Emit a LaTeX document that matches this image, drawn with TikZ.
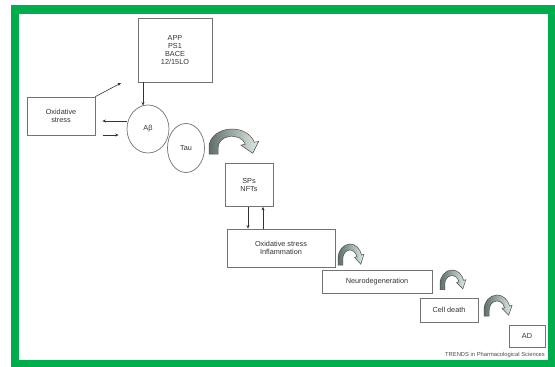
\documentclass[tikz,border=0pt]{standalone}
\usepackage{fontspec}
\setmainfont{Liberation Sans}
\usetikzlibrary{arrows.meta,shapes.geometric}
\definecolor{gframe}{RGB}{0,173,76}
\definecolor{cdark}{RGB}{95,112,104}
\definecolor{clight}{RGB}{222,236,228}
\newcommand\carrow[4]{%
  \begin{scope}[shift={(#1,#2)},xscale=#3,yscale=-#4]
    \path[draw=black!70,line width=0.5pt,left color=cdark,right color=clight]
      (-1,-0.4) -- (180:1) arc[start angle=180,end angle=15,radius=1]
      -- (15:1.2) -- (0.9,-0.35) -- (15:0.4) -- (15:0.6)
      arc[start angle=15,end angle=180,radius=0.6] -- (-0.6,-0.4) -- cycle;
  \end{scope}}
\begin{document}
\begin{tikzpicture}[x=1pt,y=-1pt,
  box/.style={draw=black!55,line width=0.7pt,fill=white,align=center,inner sep=0pt,
    text=black!80,font=\fontsize{7.3}{8.3}\selectfont},
  bub/.style={ellipse,draw=black!55,line width=0.7pt,fill=white,inner sep=0pt,
    text=black!80,font=\fontsize{7.3}{8.3}\selectfont},
  arr/.style={draw=black!80,line width=0.6pt,-{Stealth[length=3.5pt,width=3pt]}}]
\fill[white] (0,0) rectangle (555,367);
\fill[gframe] (11,5) rectangle (555,367);
\fill[white] (19,14) rectangle (548,360);

\node[box,minimum width=74pt,minimum height=64pt] (top) at (175,50) {APP\\PS1\\BACE\\12/15LO};
\node[box,minimum width=68pt,minimum height=38pt] (ox) at (61,116) {Oxidative\\stress};
\node[bub,minimum width=42pt,minimum height=48pt] (ab) at (148,129) {Aβ};
\node[bub,minimum width=37pt,minimum height=49pt] (tau) at (186,148) {Tau};
\node[box,minimum width=48pt,minimum height=43pt] (sps) at (249,185) {SPs\\NFTs};
\node[box,minimum width=108pt,minimum height=38pt] (osi) at (281,248) {Oxidative stress\\Inflammation};
\node[box,minimum width=110pt,minimum height=23pt] (neuro) at (377,282) {Neurodegeneration};
\node[box,minimum width=58pt,minimum height=24pt] (cell) at (449,310) {Cell death};
\node[box,minimum width=36pt,minimum height=22pt] (ad) at (527,336) {AD};
\node[font=\fontsize{5.8}{6}\selectfont,text=black!70,anchor=east,inner sep=0pt] (foot) at (545,355) {TRENDS in Pharmacological Sciences};

\coordinate (oxup) at (121,83);
\draw[arr] ([xshift=-5pt]top.south -| ab.north) -- ([xshift=-5pt,yshift=-1pt]ab.north);
\draw[arr] (ox.north east) -- (oxup);
\draw[arr,shorten >=7pt] ([yshift=8pt]ab.west) -- ([yshift=8pt]ab.west -| ox.east);
\draw[arr,shorten <=8pt,shorten >=8pt] ([yshift=-6pt]ab.west -| ox.east) -- ([yshift=-6pt]ab.west);
\draw[arr] ([xshift=-1pt]sps.south) -- ([xshift=-1pt]sps.south |- osi.north);
\draw[arr] ([xshift=14pt]sps.south |- osi.north) -- ([xshift=14pt]sps.south);

\carrow{232}{147}{23}{18}
\carrow{350}{259}{12}{15}
\carrow{452}{284}{12}{14}
\carrow{497}{310}{13}{15}
\end{tikzpicture}
\end{document}
